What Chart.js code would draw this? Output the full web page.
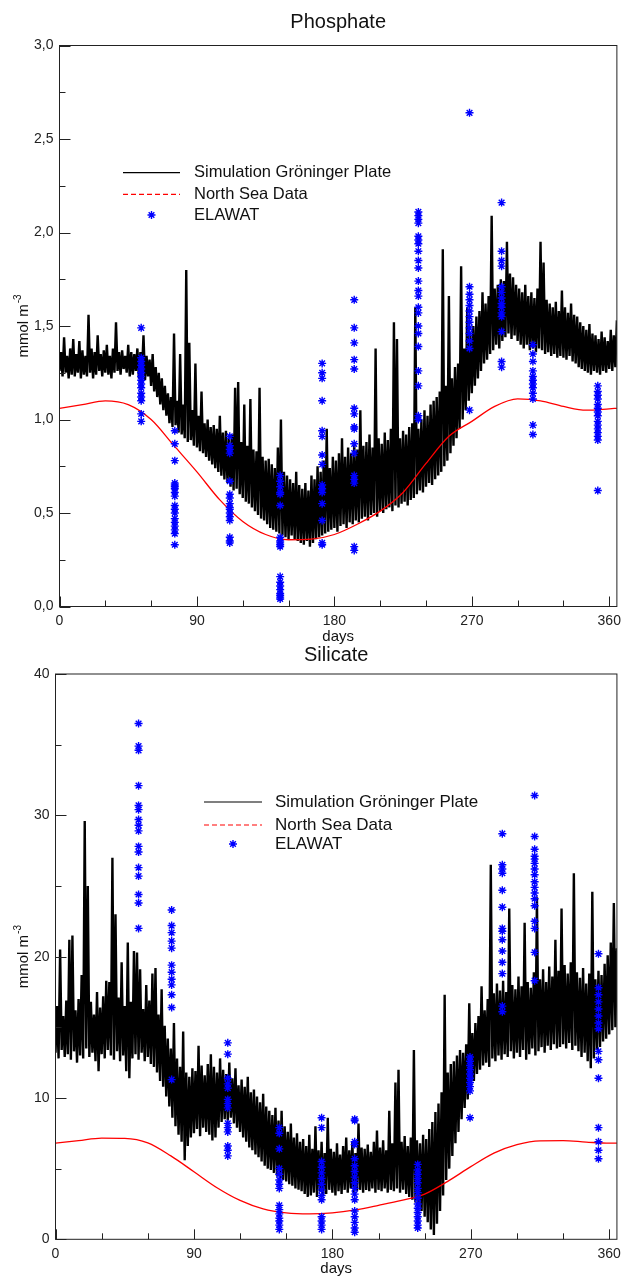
<!DOCTYPE html>
<html>
<head>
<meta charset="utf-8">
<title>Phosphate / Silicate</title>
<script src="https://cdn.jsdelivr.net/npm/chart.js"></script>
<style>
  body { margin: 0; background: #fff; }
  #wrap { position: relative; width: 627px; height: 1278px; }
  canvas { position: absolute; left: 0; }
  #cPhos { top: 0; }
  #cSili { top: 636px; }
</style>
</head>
<body>
<div id="wrap">
  <canvas id="cPhos" width="627" height="650"></canvas>
  <canvas id="cSili" width="627" height="642"></canvas>
</div>

<script>
// ---- data ----
const legendLabels = ['Simulation Gröninger Plate', 'North Sea Data', 'ELAWAT'];
const xTickLabels = [0, 90, 180, 270, 360];

// simulation, one value per day (day 0 .. 365)
const phosSim = [
  1.26,1.36,1.23,1.44,1.25,1.34,1.22,1.38,1.24,1.43,
  1.23,1.35,1.25,1.42,1.22,1.37,1.24,1.34,1.23,1.56,
  1.25,1.38,1.22,1.36,1.24,1.45,1.26,1.35,1.23,1.37,
  1.25,1.40,1.24,1.34,1.22,1.38,1.25,1.52,1.26,1.36,
  1.24,1.37,1.27,1.34,1.25,1.40,1.23,1.36,1.24,1.35,
  1.26,1.38,1.22,1.36,1.25,1.45,1.21,1.34,1.23,1.32,
  1.18,1.35,1.15,1.28,1.12,1.25,1.08,1.22,1.05,1.18,
  1.02,1.14,0.98,1.12,0.96,1.46,0.97,1.10,0.93,1.35,
  0.92,1.08,0.90,1.80,0.88,1.41,0.89,1.05,0.86,1.30,
  0.85,1.02,0.83,1.15,0.82,0.98,0.80,1.00,0.78,0.96,
  0.76,0.97,0.74,0.95,0.72,1.02,0.70,0.93,0.68,0.94,
  0.66,0.90,0.64,0.92,0.62,1.17,0.63,1.20,0.60,0.88,
  0.58,1.08,0.56,0.86,0.55,1.11,0.53,0.84,0.51,0.83,
  0.49,1.17,0.47,0.80,0.46,0.78,0.44,0.79,0.42,0.76,
  0.41,0.74,0.40,0.85,0.39,1.00,0.38,0.72,0.37,0.70,
  0.36,0.68,0.38,0.66,0.36,0.72,0.35,0.65,0.34,0.63,
  0.33,0.66,0.35,0.62,0.32,0.70,0.34,0.68,0.36,0.75,
  0.37,0.72,0.38,0.78,0.39,0.95,0.40,0.74,0.41,0.80,
  0.42,0.78,0.40,0.82,0.43,0.90,0.44,0.80,0.42,0.85,
  0.45,0.82,0.44,0.88,0.46,0.84,0.45,1.05,0.47,0.86,
  0.48,0.88,0.46,0.92,0.49,0.85,0.50,1.38,0.48,0.90,
  0.51,0.87,0.50,0.93,0.52,0.89,0.53,0.95,0.51,1.52,
  0.54,1.43,0.53,0.90,0.55,0.94,0.56,0.92,0.54,0.96,
  0.57,0.98,0.58,1.60,0.60,0.95,0.62,1.00,0.61,1.05,
  0.64,1.02,0.66,1.08,0.65,1.10,0.68,1.12,0.70,1.15,
  0.72,1.91,0.75,1.18,0.78,1.66,0.82,1.22,0.86,1.28,
  0.90,1.30,0.95,1.82,1.00,1.38,1.05,1.60,1.10,1.45,
  1.14,1.50,1.18,1.55,1.22,1.58,1.26,1.68,1.30,1.62,
  1.32,1.66,1.35,2.09,1.37,1.70,1.40,1.72,1.38,1.75,
  1.42,1.74,1.44,1.95,1.46,1.78,1.43,1.76,1.45,1.72,
  1.42,1.70,1.40,1.68,1.38,1.72,1.40,1.66,1.37,1.68,
  1.38,1.65,1.36,1.70,1.38,1.95,1.37,1.84,1.35,1.64,
  1.36,1.62,1.34,1.60,1.35,1.63,1.33,1.58,1.34,1.69,
  1.33,1.60,1.32,1.57,1.34,1.62,1.31,1.56,1.30,1.55,
  1.28,1.52,1.27,1.50,1.26,1.48,1.25,1.51,1.24,1.46,
  1.26,1.45,1.25,1.43,1.24,1.47,1.26,1.44,1.25,1.42,
  1.27,1.48,1.26,1.45,1.28,1.53
];

const siliSim = [
  13.2,16.5,12.8,20.5,13.4,15.8,12.9,16.9,13.1,21.2,
  12.7,21.5,13.3,16.2,12.5,17.0,13.0,18.7,12.8,29.6,
  13.5,25.0,12.9,16.8,13.2,15.9,12.6,17.5,11.9,16.4,
  13.1,17.2,12.8,18.3,13.4,18.2,13.0,27.0,12.7,23.0,
  13.3,17.1,12.6,19.6,13.0,16.5,11.9,21.0,11.4,16.8,
  12.8,20.4,13.1,20.3,12.7,19.1,13.2,16.3,12.6,18.0,
  12.9,16.9,12.4,18.8,12.2,19.2,11.8,15.9,11.2,17.7,
  10.8,15.1,10.1,14.2,9.4,13.5,8.6,15.3,8.0,12.8,
  7.4,12.2,6.9,14.7,5.6,11.8,6.6,11.5,7.2,12.1,
  7.5,11.9,7.8,13.7,7.3,12.3,7.9,11.6,7.6,12.4,
  7.4,13.1,7.0,12.2,7.2,11.8,7.9,12.8,8.3,12.0,
  8.5,11.7,8.4,12.5,8.6,11.4,8.2,12.1,7.9,10.9,
  7.6,11.3,7.2,10.8,6.9,11.5,6.5,10.4,6.3,10.6,
  6.0,10.1,5.8,9.7,5.5,10.3,5.2,9.4,5.0,9.1,
  4.9,8.8,4.7,9.3,4.5,8.4,4.3,9.1,4.2,8.0,
  4.1,7.6,3.9,8.2,3.8,7.2,3.6,7.5,3.5,6.9,
  3.4,7.1,3.2,6.6,3.0,7.4,3.1,6.4,3.3,8.0,
  3.0,6.3,3.4,6.9,3.1,6.1,3.2,8.6,3.5,6.4,
  3.3,6.2,3.1,6.8,3.4,6.0,3.2,6.6,3.5,7.2,
  3.3,6.3,3.6,6.9,3.2,6.1,3.4,8.2,3.5,6.5,
  3.3,6.4,3.5,6.7,3.4,6.2,3.6,6.9,3.3,7.7,
  3.5,6.5,3.4,7.0,3.6,6.3,3.3,9.1,3.5,6.8,
  3.4,11.1,3.6,12.0,3.3,6.9,3.5,7.3,3.2,6.6,
  3.0,7.2,2.8,13.4,2.6,7.0,2.3,6.8,2.0,7.4,
  1.6,7.1,1.2,7.8,0.7,8.3,0.3,9.0,1.1,9.6,
  2.0,10.4,3.1,17.3,4.2,11.8,5.0,12.4,5.9,12.6,
  6.8,13.0,7.6,13.4,8.5,13.2,9.3,13.8,9.9,16.7,
  10.6,14.6,11.2,15.3,11.7,15.8,12.0,17.9,12.3,16.2,
  12.5,17.0,12.2,26.5,12.8,17.4,12.6,18.1,13.0,17.6,
  12.7,18.3,13.1,17.5,12.9,23.4,13.3,18.0,12.8,17.7,
  13.2,18.6,12.9,17.9,13.4,22.4,12.7,18.2,13.1,17.8,
  13.5,18.9,13.0,24.2,13.3,18.4,13.6,19.1,13.2,18.2,
  13.7,19.3,13.4,18.6,13.8,21.2,13.5,19.0,13.6,23.4,
  13.8,19.4,13.5,18.8,13.9,19.6,13.4,25.9,13.7,18.9,
  13.3,18.5,12.9,19.2,13.2,18.1,12.6,18.8,12.1,24.6,
  12.8,18.4,13.4,19.0,13.6,18.7,14.0,19.5,14.2,20.1,
  14.5,21.0,14.8,23.8,15.0,20.6
];

// North Sea climatology
const northDays = [0,15,30,45,60,75,90,105,120,135,150,165,180,195,210,225,240,255,270,285,300,315,330,345,360,365];
const phosNorth = [1.06,1.08,1.10,1.08,1.00,0.86,0.72,0.57,0.455,0.385,0.357,0.36,0.385,0.44,0.51,0.61,0.765,0.91,0.99,1.07,1.11,1.10,1.07,1.05,1.057,1.06];
const siliNorth = [6.8,6.98,7.16,7.14,6.82,5.9,4.78,3.65,2.75,2.15,1.87,1.8,1.87,2.08,2.4,2.75,3.2,4.1,5.14,6.1,6.7,6.97,6.98,6.88,6.8,6.8];

// ELAWAT samples: one day per cruise, a column of values per day
const phosElawatDays = [53.5, 75.5, 111.5, 144.5, 172, 193, 235, 268.5, 289.5, 310, 352.5];
const phosElawat = [
  [1.49,1.33,1.31,1.29,1.27,1.25,1.23,1.21,1.19,1.17,1.14,1.12,1.10,1.03,0.99],
  [0.94,0.87,0.78,0.66,0.65,0.64,0.63,0.61,0.59,0.54,0.52,0.50,0.47,0.45,0.43,0.41,0.39,0.33],
  [0.91,0.86,0.84,0.82,0.67,0.60,0.58,0.55,0.53,0.52,0.50,0.48,0.46,0.37,0.35,0.34],
  [0.70,0.67,0.64,0.61,0.60,0.54,0.37,0.35,0.34,0.33,0.32,0.16,0.13,0.11,0.09,0.07,0.06,0.05,0.04],
  [1.30,1.25,1.22,1.10,0.94,0.91,0.81,0.76,0.65,0.63,0.61,0.55,0.46,0.34,0.33],
  [1.64,1.49,1.41,1.32,1.27,1.06,1.03,0.96,0.95,0.87,0.82,0.70,0.68,0.66,0.32,0.30],
  [2.11,2.09,2.07,2.05,1.98,1.96,1.94,1.90,1.85,1.81,1.74,1.69,1.66,1.60,1.57,1.50,1.46,1.39,1.26,1.18,1.02,1.00],
  [2.64,1.71,1.67,1.64,1.61,1.58,1.55,1.52,1.49,1.46,1.42,1.38,1.05],
  [2.16,1.90,1.85,1.82,1.71,1.68,1.65,1.62,1.60,1.57,1.55,1.47,1.31,1.28],
  [1.40,1.35,1.31,1.26,1.23,1.21,1.19,1.17,1.14,1.11,0.97,0.92],
  [1.18,1.15,1.13,1.11,1.08,1.06,1.04,1.02,0.99,0.97,0.95,0.93,0.91,0.89,0.62]
];

const siliElawatDays = [54, 75.5, 112, 145.5, 173, 194.5, 235.5, 269.5, 290.5, 311.5, 353];
const siliElawat = [
  [36.5,34.9,34.6,32.1,30.7,30.4,29.7,29.3,28.9,27.8,27.4,26.3,25.7,24.4,23.8,22.0],
  [23.3,22.2,21.7,21.1,20.6,19.4,18.9,18.4,18.0,17.3,16.4,11.3],
  [13.9,13.1,11.4,11.0,10.7,9.9,9.6,9.3,8.2,7.9,7.6,6.6,6.3,5.9],
  [7.9,7.5,6.4,5.0,4.6,4.2,3.9,3.6,2.4,2.1,1.8,1.5,1.3,1.0,0.7],
  [8.6,7.9,5.5,5.1,4.7,4.3,3.9,3.5,3.1,2.8,1.6,1.3,1.0,0.7],
  [8.5,8.4,6.9,6.7,5.7,5.2,4.8,4.4,4.0,3.6,3.2,2.8,2.0,1.6,1.2,0.8,0.5],
  [5.3,4.9,4.6,4.3,4.0,3.6,3.3,2.9,2.5,2.2,1.9,1.6,1.3,1.0,0.8],
  [12.9,12.6,12.3,12.0,11.7,11.4,11.1,10.8,10.5,8.6],
  [28.7,26.5,26.2,25.9,24.7,23.5,22.0,21.8,21.2,20.4,19.6,18.8,16.5,16.1],
  [31.4,28.5,27.6,27.1,26.9,26.6,26.2,25.8,25.3,24.9,24.5,24.1,23.6,22.5,22.0,20.3,18.3],
  [20.2,17.8,17.3,16.8,16.3,15.8,15.3,14.9,13.3,12.7,11.4,7.9,6.9,6.3,5.7]
];

// ---- drawing ----
const FONT = '"Liberation Sans", Arial, Helvetica, sans-serif';
Chart.defaults.font.family = FONT;
Chart.defaults.color = '#222';

function star(ctx, x, y, r) {
  const d = r * Math.SQRT1_2;
  ctx.beginPath();
  ctx.moveTo(x - r, y); ctx.lineTo(x + r, y);
  ctx.moveTo(x, y - r); ctx.lineTo(x, y + r);
  ctx.moveTo(x - d, y - d); ctx.lineTo(x + d, y + d);
  ctx.moveTo(x - d, y + d); ctx.lineTo(x + d, y - d);
  ctx.stroke();
}

// frame, inward ticks, titles, legend
const panelDecor = {
  id: 'panelDecor',
  afterDatasetsDraw(chart, args, o) {
    const { ctx, chartArea: a } = chart;
    const x = chart.scales.x, y = chart.scales.y;
    ctx.save();
    ctx.strokeStyle = '#222';
    ctx.lineWidth = 1;
    ctx.beginPath();
    for (let v = 0; v <= 360; v += 30) {
      const px = Math.round(x.getPixelForValue(v)) + 0.5;
      ctx.moveTo(px, a.bottom);
      ctx.lineTo(px, a.bottom - (v % 90 === 0 ? 10 : 6));
    }
    for (let k = 0; k * o.yMinor <= y.max + 1e-9; k++) {
      const v = k * o.yMinor;
      const py = Math.round(y.getPixelForValue(v)) + 0.5;
      const major = k % Math.round(o.yMajor / o.yMinor) === 0;
      ctx.moveTo(a.left, py);
      ctx.lineTo(a.left + (major ? 11 : 6), py);
    }
    ctx.stroke();
    ctx.strokeRect(a.left, a.top, a.right - a.left, a.bottom - a.top);

    const cx = (a.left + a.right) / 2;
    ctx.fillStyle = '#111';
    ctx.textAlign = 'center';
    ctx.textBaseline = 'alphabetic';
    ctx.font = `20px ${FONT}`;
    ctx.fillText(o.title, cx, o.titleY);
    ctx.font = `15px ${FONT}`;
    ctx.fillText('days', cx, o.daysY);

    // y axis title with superscript
    ctx.save();
    ctx.translate(o.yTitleX, (a.top + a.bottom) / 2);
    ctx.rotate(-Math.PI / 2);
    ctx.textAlign = 'left';
    ctx.font = `15px ${FONT}`;
    const w1 = ctx.measureText('mmol m').width;
    ctx.font = `10px ${FONT}`;
    const w2 = ctx.measureText('-3').width;
    const s = -(w1 + w2 + 1) / 2;
    ctx.font = `15px ${FONT}`;
    ctx.fillText('mmol m', s, 0);
    ctx.font = `10px ${FONT}`;
    ctx.fillText('-3', s + w1 + 1, -7);
    ctx.restore();

    // legend
    const L = o.legend;
    ctx.lineWidth = 1.2;
    ctx.strokeStyle = '#000';
    ctx.beginPath(); ctx.moveTo(L.x0, L.rows[0]); ctx.lineTo(L.x1, L.rows[0]); ctx.stroke();
    ctx.strokeStyle = '#ff0000';
    ctx.setLineDash([5, 3]);
    ctx.beginPath(); ctx.moveTo(L.x0, L.rows[1]); ctx.lineTo(L.x1, L.rows[1]); ctx.stroke();
    ctx.setLineDash([]);
    ctx.strokeStyle = '#0000ff';
    ctx.lineWidth = 1.4;
    star(ctx, (L.x0 + L.x1) / 2, L.rows[2], 4);
    ctx.font = `${L.size}px ${FONT}`;
    ctx.textAlign = 'left';
    ctx.textBaseline = 'middle';
    legendLabels.forEach((t, i) => ctx.fillText(t, L.tx, L.rows[i]));
    ctx.restore();
  }
};

function makePanel(id, p) {
  const simPts = p.sim.map((v, i) => ({ x: i, y: v }));
  const northPts = northDays.map((d, i) => ({ x: d, y: p.north[i] }));
  const elaPts = p.elaDays.flatMap((d, i) => p.ela[i].map(v => ({ x: d, y: v })));

  return new Chart(document.getElementById(id), {
    type: 'scatter',
    data: {
      datasets: [
        {
          label: legendLabels[2], data: elaPts, order: 0,
          pointStyle: 'star', pointRadius: 4, pointBorderWidth: 1.4,
          borderColor: '#0000ff', backgroundColor: '#0000ff', showLine: false
        },
        {
          label: legendLabels[1], data: northPts, order: 1, showLine: true,
          borderColor: '#ff0000', borderWidth: 1.3, pointRadius: 0,
          cubicInterpolationMode: 'monotone', fill: false
        },
        {
          label: legendLabels[0], data: simPts, order: 2, showLine: true,
          borderColor: '#000', borderWidth: 2.4, pointRadius: 0,
          borderJoinStyle: 'bevel', tension: 0, fill: false
        }
      ]
    },
    options: {
      responsive: false,
      animation: false,
      devicePixelRatio: 1,
      layout: { padding: p.padding },
      plugins: {
        legend: { display: false },
        tooltip: { enabled: false },
        panelDecor: p.decor
      },
      scales: {
        x: {
          type: 'linear', min: 0, max: 365,
          grid: { display: false, drawTicks: false },
          border: { display: false },
          afterFit: s => { s.height = 20; },
          afterBuildTicks: s => { s.ticks = xTickLabels.map(v => ({ value: v })); },
          ticks: { padding: 6, autoSkip: false, maxRotation: 0, font: { size: 14 } }
        },
        y: {
          min: 0, max: p.yMax,
          grid: { display: false, drawTicks: false },
          border: { display: false },
          afterFit: s => { s.width = p.yWidth; },
          ticks: { stepSize: p.yStep, padding: 6, font: { size: 14 }, callback: p.fmt }
        }
      }
    },
    plugins: [panelDecor]
  });
}

makePanel('cPhos', {
  sim: phosSim, north: phosNorth, elaDays: phosElawatDays, ela: phosElawat,
  yMax: 3, yStep: 0.5, yWidth: 59.5,
  fmt: v => v.toFixed(1).replace('.', ','),
  padding: { left: 0, right: 5.5, top: 45.5, bottom: 23.5 },
  decor: {
    title: 'Phosphate', titleY: 27.5, daysY: 641, yTitleX: 28,
    yMinor: 0.25, yMajor: 0.5,
    legend: { x0: 123, x1: 180, tx: 194, rows: [172.7, 194.3, 215], size: 16.5 }
  }
});

makePanel('cSili', {
  sim: siliSim, north: siliNorth, elaDays: siliElawatDays, ela: siliElawat,
  yMax: 40, yStep: 10, yWidth: 55.5,
  fmt: v => String(v),
  padding: { left: 0, right: 6.5, top: 38, bottom: 18.7 },
  decor: {
    title: 'Silicate', titleY: 24.7, daysY: 637, yTitleX: 28,
    yMinor: 5, yMajor: 10,
    legend: { x0: 204, x1: 262, tx: 275, rows: [166, 189, 208], size: 17 }
  }
});
</script>
</body>
</html>
